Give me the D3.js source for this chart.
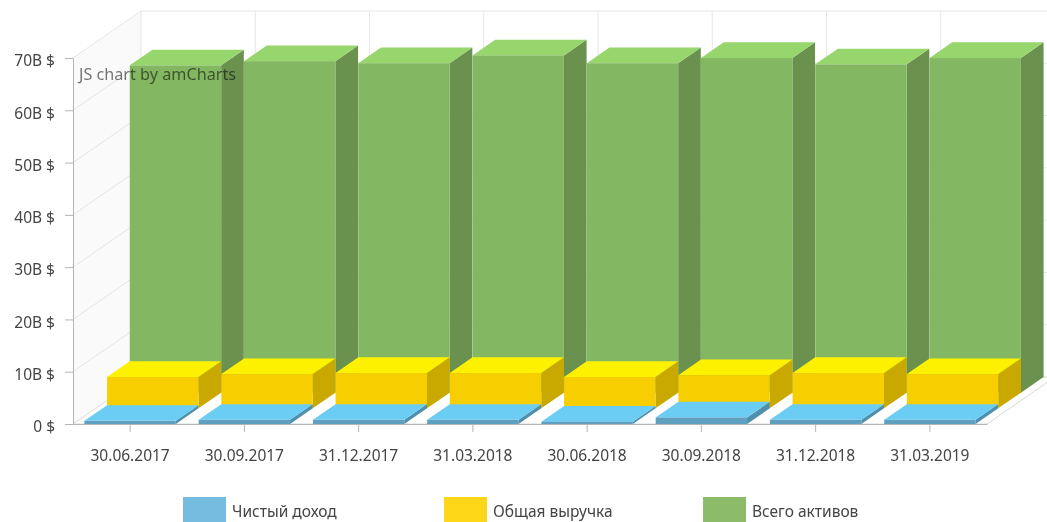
<!DOCTYPE html>
<html>
<head>
<meta charset="utf-8">
<script src="https://cdn.jsdelivr.net/npm/d3@7"></script>
<style>
	html, body { margin: 0; padding: 0; background: #fff; overflow: hidden; }
	svg { display: block; filter: blur(0.35px); }
	text { font-family: "Noto Sans", sans-serif; fill: #444; }
</style>
</head>
<body>
<div id="chart"></div>
<script>
const dates = ["30.06.2017", "30.09.2017", "31.12.2017", "31.03.2018", "30.06.2018", "30.09.2018", "31.12.2018", "31.03.2019"];
const netIncome = [0.6, 0.8, 0.8, 0.8, 0.45, 1.25, 0.8, 0.8];
const revenue = [6.0, 6.55, 6.75, 6.75, 6.0, 6.35, 6.75, 6.55];
const assets = [62.6, 63.4, 63.0, 64.5, 63.0, 64.0, 62.8, 64.0];
const yTicks = [0, 10, 20, 30, 40, 50, 60, 70];
const legendNames = ["Чистый доход", "Общая выручка", "Всего активов"];

const width = 1047;
const height = 522;
const plotLeft = 73, plotRight = 987, plotBottom = 424, plotTop = 58;
// 3d offset of the whole chart, each series takes a third of it
const depthX = 68, depthY = -47;
const slotX = depthX / 3, slotY = depthY / 3;

const x = d3.scaleBand().domain(dates).range([plotLeft, plotRight]).paddingInner(0.2).paddingOuter(0.1);
const y = d3.scaleLinear().domain([0, 70]).range([plotBottom, plotTop]);

// back to front, the legend reads the other way round
const series = [
	{ name: legendNames[2], values: assets, slot: 2, front: "#84b761", topFace: "#97d56d", side: "#6a914e", legend: "#8cbb6a" },
	{ name: legendNames[1], values: revenue, slot: 1, front: "#f7cf00", topFace: "#fdf100", side: "#c9a900", legend: "#fdd617" },
	{ name: legendNames[0], values: netIncome, slot: 0, front: "#5f9fc0", topFace: "#6ccdf4", side: "#4e8fac", legend: "#76bce0" },
];

const svg = d3.select("#chart").append("svg").attr("width", width).attr("height", height);

drawWalls();
drawColumns();
drawAxes();
drawLegend();
drawWatermark();

function poly(g, points, fill) {
	return g.append("polygon").attr("points", points.map((p) => p.join(",")).join(" ")).attr("fill", fill);
}

function drawWalls() {
	const g = svg.append("g");
	const gridColor = "#e6e6e6";

	poly(g, [[plotLeft, plotTop], [plotLeft + depthX, plotTop + depthY], [plotLeft + depthX, plotBottom + depthY], [plotLeft, plotBottom]], "#fafafa");
	poly(g, [[plotLeft, plotBottom], [plotRight, plotBottom], [plotRight + depthX, plotBottom + depthY], [plotLeft + depthX, plotBottom + depthY]], "#fff")
		.attr("stroke", "#d8d8d8");

	yTicks.forEach((d) => {
		g.append("line")
			.attr("x1", plotLeft).attr("y1", y(d))
			.attr("x2", plotLeft + depthX).attr("y2", y(d) + depthY)
			.attr("stroke", gridColor);
		g.append("line")
			.attr("x1", plotLeft + depthX).attr("y1", y(d) + depthY)
			.attr("x2", plotRight + depthX).attr("y2", y(d) + depthY)
			.attr("stroke", gridColor);
	});

	const step = x.step();
	for (let i = 0; i <= dates.length; i++) {
		g.append("line")
			.attr("x1", plotLeft + depthX + i * step).attr("y1", plotTop + depthY)
			.attr("x2", plotLeft + depthX + i * step).attr("y2", plotBottom + depthY)
			.attr("stroke", gridColor);
	}
}

function drawColumns() {
	const w = x.bandwidth();
	series.forEach((s) => {
		const g = svg.append("g").attr("class", "series");
		const ox = s.slot * slotX;
		const oy = s.slot * slotY;
		s.values.forEach((d, i) => {
			const x0 = x(dates[i]) + ox;
			const x1 = x0 + w;
			const y0 = y(0) + oy;
			const yt = y(d) + oy;
			poly(g, [[x1, y0], [x1 + slotX, y0 + slotY], [x1 + slotX, yt + slotY], [x1, yt]], s.side);
			poly(g, [[x0, yt], [x1, yt], [x1 + slotX, yt + slotY], [x0 + slotX, yt + slotY]], s.topFace);
			g.append("rect").attr("x", x0).attr("y", yt).attr("width", w).attr("height", y0 - yt).attr("fill", s.front);
		});
	});
}

function drawAxes() {
	const yAxis = d3.axisLeft(y).tickValues(yTicks).tickSize(8).tickSizeOuter(0).tickPadding(10)
		.tickFormat((d) => d === 0 ? "0 $" : d + "B $");
	const xAxis = d3.axisBottom(x).tickSize(8).tickSizeOuter(0).tickPadding(18);

	const gy = svg.append("g").attr("transform", `translate(${plotLeft},0)`).call(yAxis);
	const gx = svg.append("g").attr("transform", `translate(0,${plotBottom})`).call(xAxis);

	gy.selectAll("text").attr("dy", "0.5em");

	[gy, gx].forEach((g) => {
		g.selectAll("path").attr("stroke", "#b5b5b5");
		g.selectAll("line").attr("stroke", "#b5b5b5");
		g.selectAll("text").attr("font-size", 15.5).style("font-family", '"Noto Sans", sans-serif').attr("fill", "#444");
	});
}

function drawLegend() {
	const swatchX = [183, 444, 703];
	const g = svg.append("g");
	series.slice().reverse().forEach((s, i) => {
		g.append("rect").attr("x", swatchX[i]).attr("y", 497).attr("width", 43).attr("height", 25).attr("fill", s.legend);
		g.append("text").attr("x", swatchX[i] + 49).attr("y", 517).attr("font-size", 15.5).text(s.name);
	});
}

function drawWatermark() {
	svg.append("text")
		.attr("x", 79).attr("y", 80)
		.attr("font-size", 16.2)
		.style("fill", "#000").attr("fill-opacity", 0.55)
		.text("JS chart by amCharts");
}
</script>
</body>
</html>
